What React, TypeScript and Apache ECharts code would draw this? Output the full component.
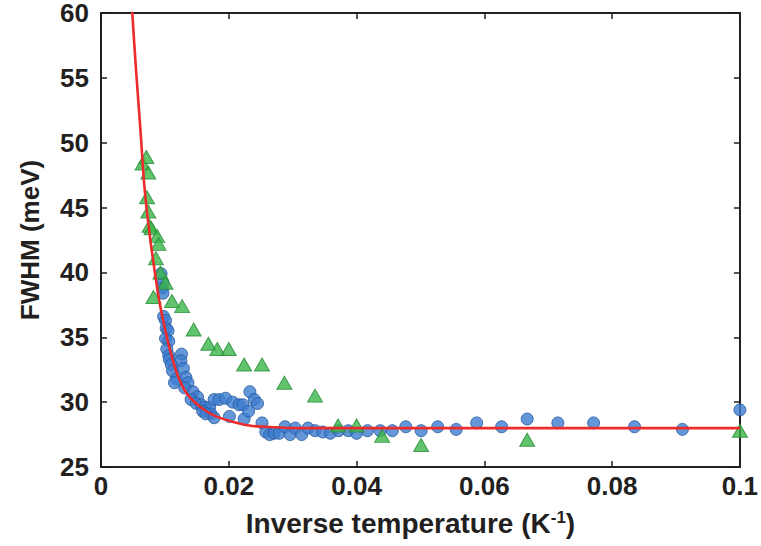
import React, { useEffect, useRef } from "react";
import * as echarts from "echarts";

// Blue circles: [inverse temperature (1/K), FWHM (meV)]
const circleData: [number, number][] = [
  [0.0094, 39.9], [0.0097, 39.2], [0.0096, 38.8], [0.0097, 38.4], [0.0098, 36.6],
  [0.0101, 36.3], [0.0102, 35.7], [0.0105, 35.5], [0.0101, 34.9], [0.0106, 34.7],
  [0.0103, 34.1], [0.0106, 33.6], [0.0107, 33.3], [0.0126, 33.7], [0.0125, 33.2],
  [0.0110, 32.9], [0.0112, 32.4], [0.0129, 32.6], [0.0118, 31.8], [0.0133, 31.9],
  [0.0115, 31.5], [0.0136, 31.5], [0.0131, 31.1], [0.0144, 30.8], [0.0151, 30.4],
  [0.0141, 30.2], [0.0149, 29.9], [0.0157, 29.8], [0.0162, 29.6], [0.0170, 29.6],
  [0.0159, 29.3], [0.0172, 29.1], [0.0164, 29.1], [0.0177, 30.2], [0.0185, 30.2],
  [0.0195, 30.3], [0.0206, 30.0], [0.0216, 29.8], [0.0222, 29.8], [0.0177, 28.8],
  [0.0201, 28.9], [0.0224, 28.7], [0.0233, 30.8], [0.0240, 30.2], [0.0245, 29.9],
  [0.0231, 29.3], [0.0252, 28.4], [0.0258, 27.7], [0.0264, 27.5], [0.0271, 27.6],
  [0.0279, 27.6], [0.0288, 28.1], [0.0296, 27.5], [0.0304, 28.0], [0.0314, 27.5],
  [0.0324, 28.0], [0.0335, 27.8], [0.0347, 27.7], [0.0359, 27.6], [0.0372, 27.8],
  [0.0387, 27.8], [0.0400, 27.6], [0.0417, 27.8], [0.0437, 27.8], [0.0456, 27.8],
  [0.0477, 28.1], [0.0501, 27.8], [0.0527, 28.1], [0.0556, 27.9], [0.0588, 28.4],
  [0.0627, 28.1], [0.0667, 28.7], [0.0715, 28.4], [0.0771, 28.4], [0.0835, 28.1],
  [0.0910, 27.9], [0.1000, 29.4],
];

// Green triangles
const triangleData: [number, number][] = [
  [0.0065, 48.4], [0.0071, 48.9], [0.0074, 47.7], [0.0072, 45.8], [0.0074, 44.7],
  [0.0076, 43.6], [0.0079, 43.4], [0.0088, 42.8], [0.0090, 42.2], [0.0086, 41.1],
  [0.0093, 40.0], [0.0101, 39.2], [0.0082, 38.1], [0.0111, 37.8], [0.0127, 37.4],
  [0.0145, 35.6], [0.0168, 34.5], [0.0182, 34.1], [0.0200, 34.1], [0.0224, 32.9],
  [0.0252, 32.9], [0.0287, 31.5], [0.0335, 30.5], [0.0371, 28.2], [0.0400, 28.2],
  [0.0440, 27.4], [0.0501, 26.7], [0.0667, 27.1], [0.1000, 27.8],
];

// Red fit curve
const fitX = [0.0047, 0.0049, 0.0055, 0.0062, 0.0068, 0.0076, 0.0084, 0.0092, 0.0100, 0.0107,
  0.0115, 0.0123, 0.0135, 0.0149, 0.0165, 0.0180, 0.0205, 0.0232, 0.0258, 0.0310, 0.0500, 0.1000];
const fitY = [61.8, 60.0, 55.5, 50.8, 46.6, 43.0, 40.1, 37.6, 35.7, 34.2,
  32.8, 31.7, 30.6, 29.9, 29.3, 28.9, 28.5, 28.2, 28.1, 28.0, 28.0, 28.0];

const xTicks = { min: 0, max: 0.1, interval: 0.02 };
const yTicks = { min: 25, max: 60, interval: 5 };

const FONT = "'Liberation Sans', Arial, Helvetica, sans-serif";
const INK = "#231f20";

export default function App() {
  const ref = useRef<HTMLDivElement>(null);
  useEffect(() => {
    if (!ref.current) return;
    const chart = echarts.init(ref.current, undefined, { renderer: "svg" });
    const tick = { show: true, inside: true, length: 6, lineStyle: { color: INK, width: 1.5 } };
    const line = { show: true, onZero: false, lineStyle: { color: INK, width: 2 } };
    const label = { color: INK, fontSize: 26, fontWeight: "bold" as const, fontFamily: FONT };
    chart.setOption({
      animation: false,
      backgroundColor: "#ffffff",
      grid: { left: 101, right: 16, top: 13, bottom: 79, containLabel: false },
      xAxis: [
        {
          type: "value", ...xTicks, position: "bottom",
          axisLine: line, axisTick: tick, splitLine: { show: false },
          axisLabel: { ...label, margin: 6, formatter: (v: number) => String(+v.toFixed(2)) },
          name: "Inverse temperature (K{sup|-1})",
          nameLocation: "middle", nameGap: 42,
          nameTextStyle: {
            ...label, fontSize: 28, padding: [0, 20, 0, 0],
            rich: { sup: { fontSize: 17, fontWeight: "bold", fontFamily: FONT, color: INK, verticalAlign: "top", lineHeight: 14 } },
          },
        },
        {
          type: "value", ...xTicks, position: "top",
          axisLine: line, axisTick: tick, splitLine: { show: false }, axisLabel: { show: false },
        },
      ],
      yAxis: [
        {
          type: "value", ...yTicks, position: "left",
          axisLine: line, axisTick: tick, splitLine: { show: false },
          axisLabel: { ...label, margin: 12, lineHeight: 22 },
          name: "FWHM (meV)", nameLocation: "middle", nameGap: 58,
          nameTextStyle: { ...label },
        },
        {
          type: "value", ...yTicks, position: "right",
          axisLine: line, axisTick: tick, splitLine: { show: false }, axisLabel: { show: false },
        },
      ],
      series: [
        {
          type: "scatter", data: circleData, symbol: "circle", symbolSize: 12,
          itemStyle: { color: "#3d7dd0", borderColor: "#23589c", borderWidth: 1 },
          z: 2,
        },
        {
          type: "scatter", data: triangleData, symbol: "triangle", symbolSize: [15, 13],
          itemStyle: { color: "#3cb54a", borderColor: "#238c35", borderWidth: 1 },
          z: 3,
        },
        {
          type: "line", data: fitX.map((x, i) => [x, fitY[i]]), smooth: 0.4, showSymbol: false,
          symbol: "none", clip: true,
          lineStyle: { color: "#ee2b2b", width: 2.6 },
          z: 4,
        },
      ],
    });
    return () => chart.dispose();
  }, []);
  return <div ref={ref} style={{ position: "fixed", left: 0, top: 0, width: 761, height: 546 }} />;
}
